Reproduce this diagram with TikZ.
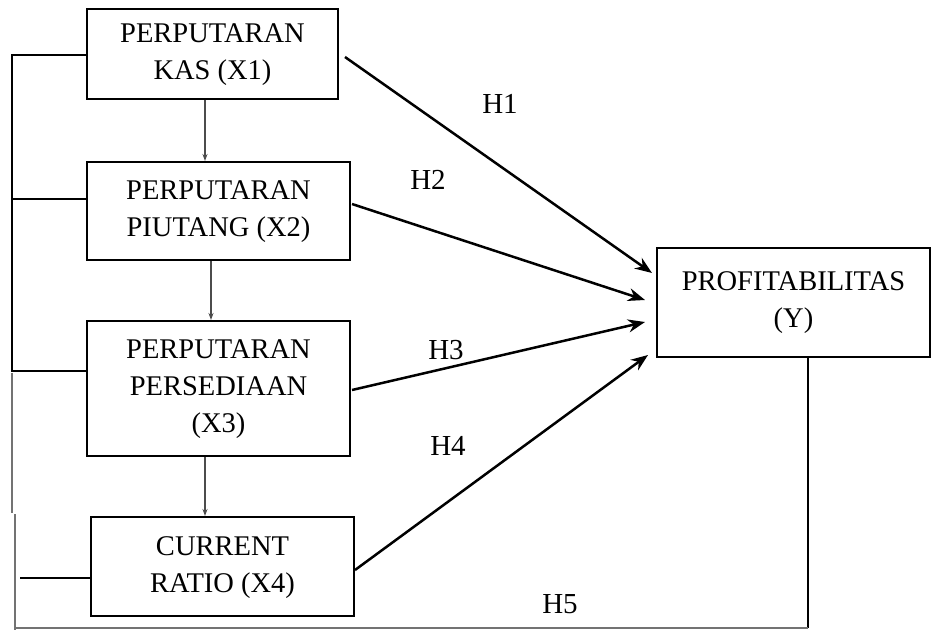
\documentclass[tikz,border=0pt]{standalone}
\usepackage{fontspec}
\setmainfont{Liberation Serif}
\usetikzlibrary{arrows.meta,calc}
\begin{document}
\begin{tikzpicture}[x=1pt,y=-1pt,
  varbox/.style={draw=black,line width=2.8pt,rectangle,align=center,inner sep=0pt,
    font=\fontsize{28.5}{37}\selectfont,text=black},
  hyp/.style={font=\fontsize{29}{30}\selectfont,text=black},
  arr/.style={line width=2.5pt,draw=black,-{Stealth[length=17pt,width=13pt]}},
  downarr/.style={line width=2.3pt,draw=black!70,-{Stealth[length=7pt,width=5pt]}},
  link/.style={line width=2.7pt,draw=black},
  glink/.style={line width=2.4pt,draw=black!55}]
\useasboundingbox (0,0) rectangle (931,631);
\node[varbox,minimum width=251pt,minimum height=90pt] (x1) at (212.5,54) {\raisebox{-4pt}{\begin{tabular}{@{}c@{}}PERPUTARAN\\KAS (X1)\end{tabular}}};
\node[varbox,minimum width=263pt,minimum height=98pt] (x2) at (218.5,211) {\raisebox{-4pt}{\begin{tabular}{@{}c@{}}PERPUTARAN\\PIUTANG (X2)\end{tabular}}};
\node[varbox,minimum width=263pt,minimum height=135pt] (x3) at (218.5,388.5) {\raisebox{-3pt}{\begin{tabular}{@{}c@{}}PERPUTARAN\\PERSEDIAAN\\(X3)\end{tabular}}};
\node[varbox,minimum width=263pt,minimum height=99pt] (x4) at (222.5,566.5) {\raisebox{-4pt}{\begin{tabular}{@{}c@{}}CURRENT\\RATIO (X4)\end{tabular}}};
\node[varbox,minimum width=273pt,minimum height=109pt] (y) at (793.5,302.5) {PROFITABILITAS\\(Y)};
% vertical arrows
\draw[downarr] (205,100) -- (205,161);
\draw[downarr] (211,261) -- (211,320);
\draw[downarr] (205,457) -- (205,516);
% arrows to Y
\coordinate (s1) at (345,57);
\coordinate (e1) at (652,273);
\coordinate (s2) at (352,204);
\coordinate (e2) at (645,300);
\coordinate (s3) at (352,390);
\coordinate (e3) at (645,322);
\coordinate (s4) at (355,570);
\coordinate (e4) at (648,355);
\draw[arr] (s1) -- (e1);
\draw[arr] (s2) -- (e2);
\draw[arr] (s3) -- (e3);
\draw[arr] (s4) -- (e4);
\node[hyp] (h1) at (500,104) {H1};
\node[hyp] (h2) at (428,180) {H2};
\node[hyp] (h3) at (446,350) {H3};
\node[hyp] (h4) at (448,446) {H4};
\node[hyp] (h5) at (560,604) {H5};
% left bracket
\coordinate (lt) at (12,55);
\coordinate (lb) at (12,371);
\draw[link] (x1.west |- lt) -- (lt) -- (lb) -- (x3.west |- lb);
\draw[link] (12,199) -- (x2.west |- 0,199);
\draw[glink] (12,373) -- (12,513);
\draw[glink] (15,514) -- (15,630);
\draw[link] (20,578) -- (x4.west |- 0,578);
% Y to bottom
\coordinate (yb) at (808,628);
\draw[link] (y.south -| yb) -- (yb);
\draw[glink] (yb) -- (15,628);
\end{tikzpicture}
\end{document}
